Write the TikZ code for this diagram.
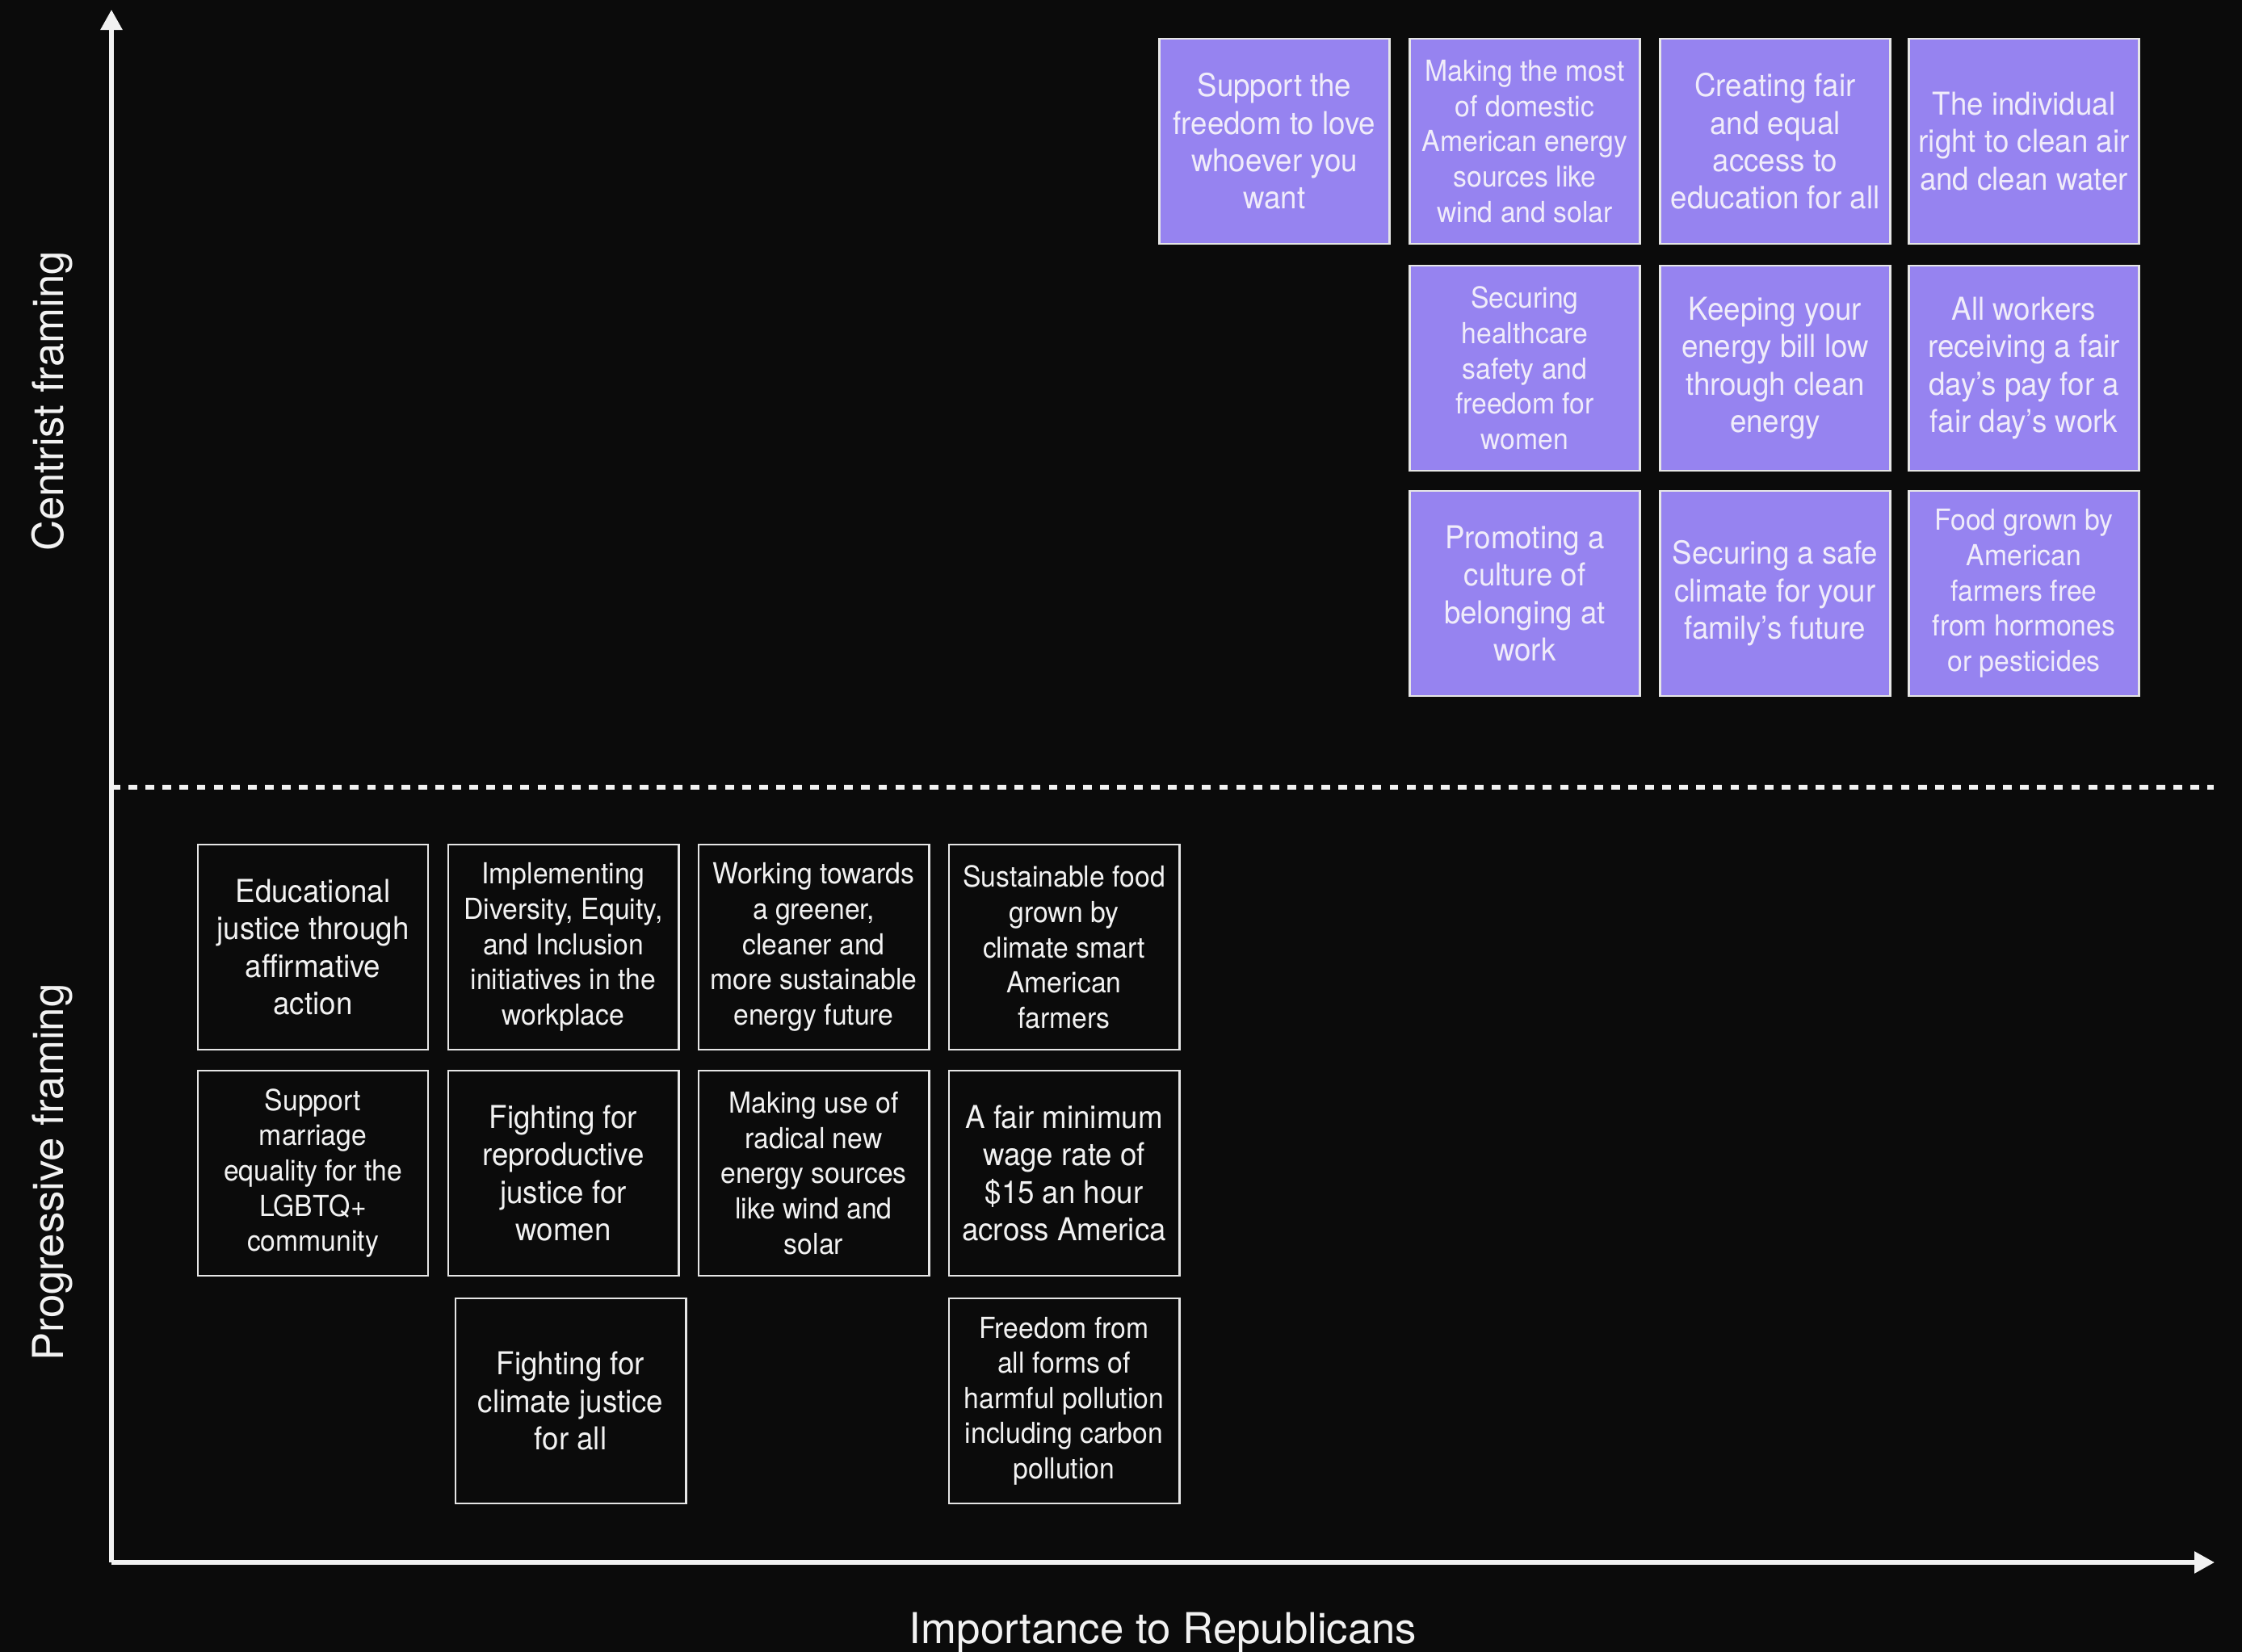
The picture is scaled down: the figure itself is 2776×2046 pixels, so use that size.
\documentclass[tikz,border=0pt]{standalone}
\usepackage{fontspec}
\setmainfont{TeX Gyre Heros}
\newfontfamily\issuefont[FakeStretch=0.94]{TeX Gyre Heros}
\usepackage{tikz}
\usetikzlibrary{arrows.meta}
\definecolor{bgblack}{HTML}{0B0B0B}
\definecolor{framepurple}{HTML}{9683F0}
\definecolor{edgegray}{HTML}{E6E6E6}
\definecolor{inkwhite}{HTML}{F2F2F2}
\definecolor{inklilac}{HTML}{F0ECFA}
\tikzset{
	issue/.style={draw=edgegray, line width=0.8pt, minimum width=2.85cm, minimum height=2.54cm, inner sep=0pt, align=center, font=\issuefont\fontsize{11.1}{13.2}\selectfont},
	fiveline/.style={font=\issuefont\fontsize{10.2}{12.4}\selectfont},
	centrist/.style={issue, fill=framepurple, text=inklilac},
	progressive/.style={issue, fill=bgblack, text=inkwhite},
	axis/.style={draw=inkwhite, line width=1.6pt, -{Triangle[width=0.26cm, length=0.25cm]}},
	axislabel/.style={text=inkwhite, font=\fontsize{15}{18}\selectfont, inner sep=0pt, anchor=base}
}

\begin{document}
\begin{tikzpicture}[x=0.01cm, y=-0.01cm]
				\useasboundingbox (0,0) rectangle (2776,2046);
				\fill[bgblack] (0,0) rectangle (2776,2046);
				
				\coordinate (origin) at (138,1935);
				\coordinate (ytop) at (138,12);
				\coordinate (xend) at (2742,1935);
				\coordinate (splitl) at (138,975);
				\coordinate (splitr) at (2741,975);
				
				\draw[axis] (origin) -- (ytop);
				\draw[axis] (origin) -- (xend);
				\draw[inkwhite, line width=1.5pt, dash pattern=on 3.1pt off 2.9pt] (splitl) -- (splitr);
				
				\node[axislabel, rotate=90] (centristlbl) at (78,497) {Centrist framing};
				\node[axislabel, rotate=90] (progressivelbl) at (78,1452) {Progressive framing};
				\node[axislabel] (xlbl) at (1440,2035) {Importance to Republicans};
				
				\node[centrist] (love) at (1578,175) {Support the\\freedom to love\\whoever you\\want};
				\node[centrist, fiveline] (domestic) at (1888,175) {Making the most\\of domestic\\American energy\\sources like\\wind and solar};
				\node[centrist] (access) at (2198,175) {Creating fair\\and equal\\access to\\education for all};
				\node[centrist] (cleanair) at (2506,175) {The individual\\right to clean air\\and clean water};
				\node[centrist, fiveline] (healthcare) at (1888,456) {Securing\\healthcare\\safety and\\freedom for\\women};
				\node[centrist] (energybill) at (2198,456) {Keeping your\\energy bill low\\through clean\\energy};
				\node[centrist] (fairpay) at (2506,456) {All workers\\receiving a fair\\day’s pay for a\\fair day’s work};
				\node[centrist] (belonging) at (1888,735) {Promoting a\\culture of\\belonging at\\work};
				\node[centrist] (safeclimate) at (2198,735) {Securing a safe\\climate for your\\family’s future};
				\node[centrist, fiveline] (farmfood) at (2506,735) {Food grown by\\American\\farmers free\\from hormones\\or pesticides};
				
				\node[progressive] (affirmative) at (387.5,1173) {Educational\\justice through\\affirmative\\action};
				\node[progressive, fiveline] (dei) at (697.5,1173) {Implementing\\Diversity, Equity,\\and Inclusion\\initiatives in the\\workplace};
				\node[progressive, fiveline] (greener) at (1007.5,1173) {Working towards\\a greener,\\cleaner and\\more sustainable\\energy future};
				\node[progressive, fiveline] (smartfood) at (1317.5,1173) {Sustainable food\\grown by\\climate smart\\American\\farmers};
				\node[progressive, fiveline] (marriage) at (387.5,1453) {Support\\marriage\\equality for the\\LGBTQ+\\community};
				\node[progressive] (reproductive) at (697.5,1453) {Fighting for\\reproductive\\justice for\\women};
				\node[progressive, fiveline] (radical) at (1007.5,1453) {Making use of\\radical new\\energy sources\\like wind and\\solar};
				\node[progressive] (minwage) at (1317.5,1453) {A fair minimum\\wage rate of\\\$15 an hour\\across America};
				\node[progressive] (climatejustice) at (706.5,1735) {Fighting for\\climate justice\\for all};
				\node[progressive, fiveline] (pollution) at (1317.5,1735) {Freedom from\\all forms of\\harmful pollution\\including carbon\\pollution};
			\end{tikzpicture}
\end{document}
